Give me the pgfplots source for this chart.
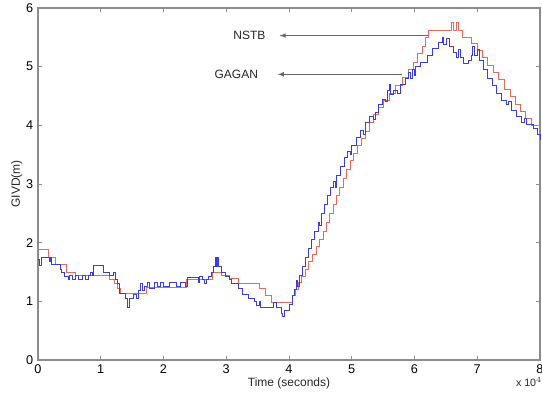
\documentclass[border=0pt]{standalone}
\usepackage{pgfplots}
\pgfplotsset{compat=1.18}
\usepackage{fontspec}
\setmainfont{Liberation Sans}
\definecolor{nstb}{RGB}{232,105,95}
\definecolor{gagan}{RGB}{60,60,230}
\definecolor{axgray}{RGB}{140,140,140}
\begin{document}
\begin{tikzpicture}
\begin{axis}[name=ax,
  scale only axis, width=376.5pt, height=264pt,
  xmin=0, xmax=8, ymin=0, ymax=6,
  xtick={0,1,...,8}, ytick={0,1,...,6},
  tick align=inside, major tick length=3pt,
  axis line style={axgray, line width=0.8pt},
  tick style={axgray, line width=0.6pt},
  every tick label/.append style={font=\fontsize{9.5}{10}\selectfont, text=black},
  /pgf/number format/assume math mode=true,
  xlabel={Time (seconds)}, ylabel={GIVD(m)},
  xlabel style={font=\fontsize{9}{10}\selectfont, text=black!85, yshift=4pt},
  ylabel style={font=\fontsize{9}{10}\selectfont, text=black!85, yshift=-4pt},
  clip=false,
]
\addplot[const plot, color=nstb, line width=0.55pt] coordinates {
(0,1.88) (0.16,1.75) (0.27,1.63) (0.46,1.5) (0.6,1.44) (1.14,1.38) (1.22,1.3) (1.27,1.22) (1.32,1.13) (1.73,1.24) (2.37,1.38) (2.78,1.5) (2.92,1.45) (3.05,1.39) (3.2,1.3) (3.52,1.22) (3.62,1.1) (3.72,0.99) (4.05,1.1) (4.1,1.2) (4.15,1.32) (4.2,1.42) (4.26,1.55) (4.31,1.68) (4.37,1.8) (4.43,1.93) (4.49,2.05) (4.54,2.2) (4.6,2.35) (4.65,2.5) (4.7,2.65) (4.75,2.8) (4.8,2.95) (4.86,3.1) (4.92,3.25) (4.98,3.4) (5.03,3.52) (5.09,3.65) (5.15,3.78) (5.21,3.9) (5.28,4.05) (5.34,4.18) (5.42,4.3) (5.5,4.42) (5.6,4.55) (5.7,4.68) (5.8,4.82) (5.9,4.95) (5.98,5.08) (6.05,5.22) (6.12,5.35) (6.17,5.5) (6.22,5.62) (6.58,5.75) (6.62,5.62) (6.66,5.75) (6.7,5.62) (6.76,5.5) (6.9,5.4) (7.0,5.27) (7.08,5.15) (7.16,5.02) (7.25,4.9) (7.34,4.78) (7.43,4.62) (7.52,4.5) (7.6,4.36) (7.68,4.24) (7.77,4.12) (7.87,4.0) (8.0,4.0)
};
\addplot[const plot, color=gagan, line width=0.55pt] coordinates {
(0,1.72) (0.02,1.62) (0.05,1.75) (0.18,1.68) (0.2,1.75) (0.22,1.63) (0.36,1.55) (0.38,1.5) (0.42,1.42) (0.48,1.38) (0.5,1.45) (0.55,1.38) (0.6,1.44) (0.65,1.38) (0.7,1.44) (0.75,1.38) (0.8,1.44) (0.83,1.5) (0.86,1.44) (0.88,1.62) (1.04,1.5) (1.14,1.45) (1.2,1.5) (1.23,1.38) (1.26,1.3) (1.29,1.13) (1.4,1.05) (1.42,0.9) (1.45,1.05) (1.52,1.12) (1.56,1.05) (1.6,1.18) (1.63,1.3) (1.66,1.18) (1.7,1.25) (1.74,1.32) (1.78,1.22) (1.85,1.32) (1.9,1.25) (1.95,1.33) (2.0,1.25) (2.1,1.32) (2.2,1.25) (2.27,1.32) (2.35,1.25) (2.38,1.4) (2.55,1.32) (2.57,1.42) (2.62,1.38) (2.65,1.3) (2.68,1.38) (2.72,1.42) (2.76,1.5) (2.8,1.6) (2.82,1.75) (2.84,1.6) (2.86,1.75) (2.88,1.6) (2.92,1.5) (2.98,1.42) (3.05,1.38) (3.08,1.3) (3.2,1.22) (3.25,1.12) (3.35,1.05) (3.45,1.0) (3.48,0.93) (3.52,1.0) (3.55,0.9) (3.75,0.98) (3.8,0.9) (3.88,0.8) (3.9,0.75) (3.93,0.85) (4.0,0.95) (4.05,1.1) (4.08,1.2) (4.11,1.35) (4.13,1.25) (4.16,1.45) (4.21,1.6) (4.26,1.75) (4.31,1.9) (4.36,2.05) (4.41,2.2) (4.46,2.35) (4.49,2.3) (4.51,2.5) (4.56,2.65) (4.61,2.8) (4.66,2.95) (4.71,3.05) (4.74,2.95) (4.76,3.15) (4.82,3.3) (4.88,3.45) (4.93,3.55) (4.97,3.5) (5.0,3.65) (5.07,3.8) (5.13,3.92) (5.18,3.85) (5.21,4.05) (5.28,4.15) (5.35,4.1) (5.38,4.22) (5.42,4.35) (5.48,4.45) (5.53,4.4) (5.56,4.6) (5.6,4.7) (5.62,4.52) (5.66,4.6) (5.72,4.55) (5.78,4.7) (5.85,4.8) (5.9,4.9) (5.94,4.8) (5.96,4.95) (6.0,4.85) (6.02,5.0) (6.1,5.08) (6.2,5.2) (6.28,5.32) (6.38,5.42) (6.44,5.5) (6.46,5.38) (6.5,5.48) (6.55,5.35) (6.62,5.25) (6.66,5.15) (6.7,5.3) (6.73,5.15) (6.78,5.05) (6.86,5.1) (6.9,5.2) (6.93,5.35) (6.96,5.2) (7.0,5.3) (7.04,5.1) (7.1,4.95) (7.16,4.8) (7.24,4.68) (7.3,4.55) (7.38,4.42) (7.46,4.35) (7.5,4.4) (7.54,4.25) (7.62,4.15) (7.7,4.05) (7.75,4.12) (7.78,4.02) (7.9,3.95) (7.95,3.85) (8.0,3.75)
};
\draw[-latex, black!60, line width=0.6pt] (axis cs:6.22,5.53) -- (axis cs:3.85,5.53);
\draw[-latex, black!60, line width=0.6pt] (axis cs:5.8,4.87) -- (axis cs:3.82,4.87);
\node[font=\fontsize{9}{10}\selectfont, text=black!85, anchor=east] at (axis cs:3.7,5.53) {NSTB};
\node[font=\fontsize{9}{10}\selectfont, text=black!85, anchor=east] at (axis cs:3.58,4.87) {GAGAN};
\node[font=\fontsize{8}{9}\selectfont, text=black!85, anchor=north east, inner sep=0pt] at ([yshift=-13pt, xshift=1.5pt]rel axis cs:1,0) {x 10$^4$};
\end{axis}
\pgfresetboundingbox
\path ([xshift=-28.5pt,yshift=-27pt]ax.south west) rectangle ([xshift=1.5pt,yshift=6pt]ax.north east);
\end{tikzpicture}
\end{document}
